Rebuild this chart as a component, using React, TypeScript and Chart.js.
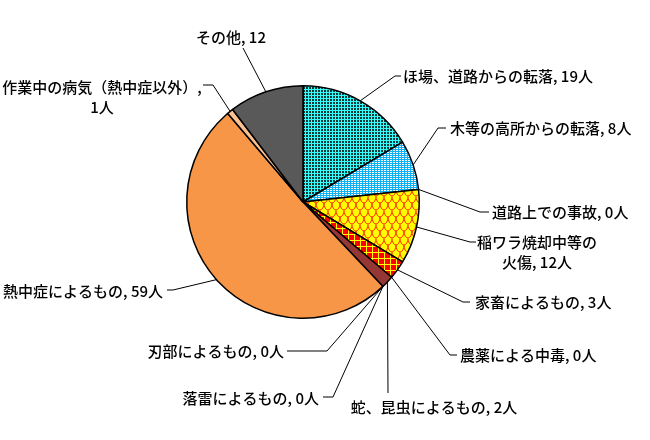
import React, { useEffect, useRef } from 'react';
import { Chart, registerables } from 'chart.js';

Chart.register(...registerables);

// ---- data ----
const categories = [
  'ほ場、道路からの転落',
  '木等の高所からの転落',
  '道路上での事故',
  '稲ワラ焼却中等の\n火傷',
  '家畜によるもの',
  '農薬による中毒',
  '蛇、昆虫によるもの',
  '落雷によるもの',
  '刃部によるもの',
  '熱中症によるもの',
  '作業中の病気（熱中症以外）',
  'その他',
];
const values = [19, 8, 0, 12, 3, 0, 2, 0, 0, 59, 1, 12];
const units = ['人', '人', '人', '人', '人', '人', '人', '人', '人', '人', '人', ''];
const separators = [', ', ', ', ', ', ', ', ', ', ', ', ', ', ', ', ', ', ', ', ',\n', ', '];

// ---- layout (label anchors, leader line elbows) ----
type Pt = [number, number];
type LabelLayout = { elbow: Pt; end: Pt | null; tx: number; ty: number; align: CanvasTextAlign; lh: number };
const labelLayout: LabelLayout[] = [
  { elbow: [395, 76], end: [401, 76], tx: 403, ty: 76, align: 'left', lh: 20 },
  { elbow: [438, 128], end: [446, 128], tx: 450, ty: 128, align: 'left', lh: 20 },
  { elbow: [480, 212], end: [489, 212], tx: 492, ty: 212, align: 'left', lh: 20 },
  { elbow: [470, 242], end: [476, 242], tx: 537, ty: 242, align: 'center', lh: 20 },
  { elbow: [463, 302], end: [470, 302], tx: 475, ty: 302, align: 'left', lh: 20 },
  { elbow: [450, 355], end: [457, 355], tx: 460, ty: 355, align: 'left', lh: 20 },
  { elbow: [388, 393], end: null, tx: 434, ty: 407, align: 'center', lh: 20 },
  { elbow: [333, 397], end: [323, 397], tx: 319, ty: 398, align: 'right', lh: 20 },
  { elbow: [327, 351], end: [287, 351], tx: 284, ty: 351, align: 'right', lh: 20 },
  { elbow: [173, 290], end: [167, 290], tx: 163, ty: 291, align: 'right', lh: 20 },
  { elbow: [213, 85], end: [203, 85], tx: 102, ty: 87, align: 'center', lh: 20 },
  { elbow: [243, 48], end: null, tx: 231, ty: 37, align: 'center', lh: 20 },
];

function tile(w: number, h: number, draw: (c: CanvasRenderingContext2D) => void): CanvasPattern | string {
  const cv = document.createElement('canvas');
  cv.width = w;
  cv.height = h;
  const c = cv.getContext('2d');
  if (!c) return '#888';
  draw(c);
  const ctx = document.createElement('canvas').getContext('2d');
  const pat = ctx ? ctx.createPattern(cv, 'repeat') : null;
  return pat || '#888';
}

function makeColors() {
  const teal = tile(3, 3, (c) => {
    c.fillStyle = '#33FFFF';
    c.fillRect(0, 0, 3, 3);
    c.fillStyle = '#123C3C';
    c.fillRect(0, 0, 2, 2);
  });
  const blue = tile(3, 2, (c) => {
    c.fillStyle = '#0EB2F2';
    c.fillRect(0, 0, 3, 2);
    c.fillStyle = '#FFFFFF';
    c.fillRect(0, 0, 2, 1);
  });
  const scale = tile(8, 14, (c) => {
    c.fillStyle = '#FFFF00';
    c.fillRect(0, 0, 8, 14);
    c.strokeStyle = '#FF2A00';
    c.lineWidth = 1;
    c.beginPath();
    c.ellipse(4, 0, 4, 7, 0, 0, Math.PI);
    c.stroke();
    c.beginPath();
    c.ellipse(0, 7, 4, 7, 0, 0, Math.PI);
    c.stroke();
    c.beginPath();
    c.ellipse(8, 7, 4, 7, 0, 0, Math.PI);
    c.stroke();
  });
  const grid = tile(6, 6, (c) => {
    c.fillStyle = '#FF0000';
    c.fillRect(0, 0, 6, 6);
    c.fillStyle = '#FFFF00';
    c.fillRect(0, 0, 6, 1);
    c.fillRect(0, 0, 1, 6);
  });
  return [teal, blue, '#FFFFFF', scale, grid, '#FFFFFF', '#953735', '#FFFFFF', '#FFFFFF', '#F79646', '#FAC090', '#595959'];
}

const leaderPlugin = {
  id: 'leaders',
  afterDatasetsDraw(chart: any) {
    const ctx: CanvasRenderingContext2D = chart.ctx;
    const meta = chart.getDatasetMeta(0);
    ctx.save();
    ctx.strokeStyle = '#000';
    ctx.lineWidth = 1;
    ctx.fillStyle = '#000';
    ctx.font = '500 15px "Noto Sans CJK JP"';
    ctx.textBaseline = 'middle';
    meta.data.forEach((arc: any, i: number) => {
      const p = arc.getProps(['x', 'y', 'startAngle', 'endAngle', 'outerRadius'], true);
      const mid = (p.startAngle + p.endAngle) / 2;
      const sx = p.x + Math.cos(mid) * p.outerRadius;
      const sy = p.y + Math.sin(mid) * p.outerRadius;
      const L = labelLayout[i];
      ctx.beginPath();
      ctx.moveTo(sx, sy);
      ctx.lineTo(L.elbow[0], L.elbow[1]);
      if (L.end) ctx.lineTo(L.end[0], L.end[1]);
      ctx.stroke();
      const text = `${categories[i]}${separators[i]}${values[i]}${units[i]}`;
      ctx.textAlign = L.align;
      text.split('\n').forEach((ln, k) => ctx.fillText(ln, L.tx, L.ty + k * L.lh));
    });
    ctx.restore();
  },
};

export default function App() {
  const ref = useRef<HTMLCanvasElement | null>(null);
  useEffect(() => {
    if (!ref.current) return;
    const chart = new Chart(ref.current, {
      type: 'pie',
      data: {
        labels: categories.map((c) => c.replace('\n', '')),
        datasets: [
          {
            data: values,
            backgroundColor: makeColors() as any,
            borderColor: '#000',
            borderWidth: 1.5,
          },
        ],
      },
      options: {
        animation: false,
        responsive: false,
        events: [],
        layout: { padding: { left: 186, right: 230, top: 85, bottom: 121 } },
        plugins: { legend: { display: false }, tooltip: { enabled: false } },
      },
      plugins: [leaderPlugin],
    });
    return () => chart.destroy();
  }, []);
  return (
    <div style={{ position: 'fixed', left: 0, top: 0, width: 650, height: 440, background: '#fff' }}>
      <canvas ref={ref} width={650} height={440} style={{ width: 650, height: 440 }} />
    </div>
  );
}
